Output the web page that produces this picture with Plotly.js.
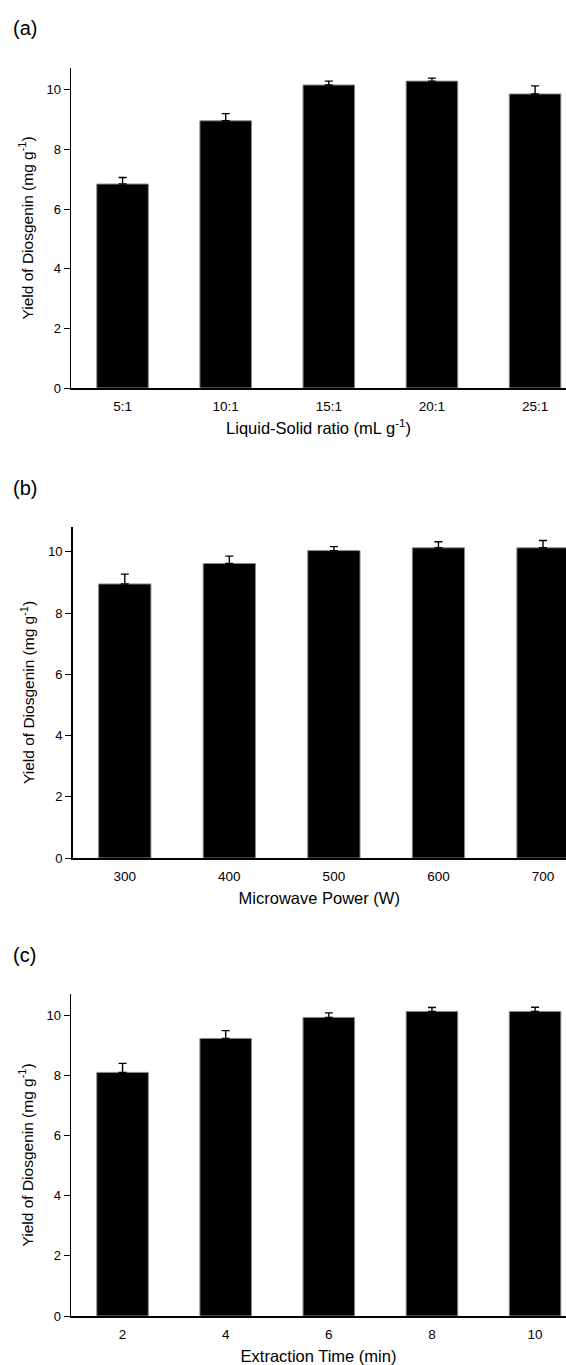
<!DOCTYPE html>
<html>
<head>
<meta charset="utf-8">
<script src="https://cdn.plot.ly/plotly-3.0.1.min.js"></script>
<style>html,body{margin:0;padding:0;background:#fff;}#chart{width:566px;height:1365px;}</style>
</head>
<body>
<div id="chart"></div>
<script>
// ---- data ----
const catsA = ["5:1", "10:1", "15:1", "20:1", "25:1"];
const yieldA = [6.84, 8.96, 10.16, 10.29, 9.86];
const errA = [0.22, 0.24, 0.13, 0.10, 0.27];

const catsB = ["300", "400", "500", "600", "700"];
const yieldB = [8.95, 9.62, 10.04, 10.13, 10.13];
const errB = [0.32, 0.24, 0.13, 0.20, 0.24];

const catsC = ["2", "4", "6", "8", "10"];
const yieldC = [8.11, 9.24, 9.94, 10.14, 10.14];
const errC = [0.30, 0.26, 0.15, 0.13, 0.14];

const yTicks = [0, 2, 4, 6, 8, 10];
const xTitles = ["Liquid-Solid ratio (mL g<sup>-1</sup>)", "Microwave Power (W)", "Extraction Time (min)"];
const yTitle = "Yield of Diosgenin (mg g<sup>-1</sup>)";
const panelLabels = ["(a)", "(b)", "(c)"];

// ---- layout helpers ----
const W = 566, H = 1365;
const FONT = "Arial, 'Liberation Sans', sans-serif";
function ydom(top, bot) { return [1 - bot / H, 1 - top / H]; }

function bar(x, y, e, xa, ya) {
  return {
    type: "bar", x: x, y: y, xaxis: xa, yaxis: ya, width: 0.5,
    marker: { color: "#000", line: { color: "#8a8a8a", width: 1 } },
    error_y: { type: "data", symmetric: false, array: e, arrayminus: e.map(() => 0),
               color: "#000", thickness: 1.4, width: 4 },
    showlegend: false, hoverinfo: "skip"
  };
}

const data = [
  bar(catsA, yieldA, errA, "x", "y"),
  bar(catsB, yieldB, errB, "x2", "y2"),
  bar(catsC, yieldC, errC, "x3", "y3")
];

const panels = [
  { left: 71, top: 68, bot: 388, xr: [-0.5, 4.3], yr: [0, 10.73] },
  { left: 72.5, top: 527, bot: 858, xr: [-0.5, 4.22], yr: [0, 10.81] },
  { left: 71, top: 994, bot: 1316, xr: [-0.5, 4.3], yr: [0, 10.72] }
];

const layout = {
  width: W, height: H,
  margin: { l: 0, r: 0, t: 0, b: 0 },
  paper_bgcolor: "#fff", plot_bgcolor: "#fff",
  font: { family: FONT, color: "#000", size: 13 },
  showlegend: false,
  annotations: []
};

panels.forEach((p, i) => {
  const sx = i === 0 ? "" : String(i + 1);
  layout["xaxis" + sx] = {
    domain: [p.left / W, 1], range: p.xr, type: "category",
    anchor: "y" + sx,
    showline: true, linecolor: "#000", linewidth: 1.5,
    ticks: "outside", ticklen: 5, tickcolor: "rgba(0,0,0,0)",
    tickfont: { size: 13.5, family: FONT },
    showgrid: false, zeroline: false, fixedrange: true,
    title: { text: xTitles[i], font: { size: 16.5, family: FONT }, standoff: 9 }
  };
  layout["yaxis" + sx] = {
    domain: ydom(p.top, p.bot), range: p.yr,
    anchor: "x" + sx,
    tickvals: yTicks,
    showline: true, linecolor: "#000", linewidth: 1.5,
    ticks: "outside", ticklen: 6, tickwidth: 1, tickcolor: "#000",
    tickfont: { size: 13, family: FONT },
    showgrid: false, zeroline: false, fixedrange: true,
    title: { text: yTitle, font: { size: 15.5, family: FONT }, standoff: 9 }
  };
});

const labelY = [28, 488, 955];
panelLabels.forEach((t, i) => {
  layout.annotations.push({
    text: t, xref: "paper", yref: "paper", x: 11 / W, y: 1 - labelY[i] / H,
    xanchor: "left", yanchor: "middle", showarrow: false,
    font: { size: 20, family: FONT, color: "#000" }
  });
});

Plotly.newPlot("chart", data, layout, { displayModeBar: false, staticPlot: true });
</script>
</body>
</html>
